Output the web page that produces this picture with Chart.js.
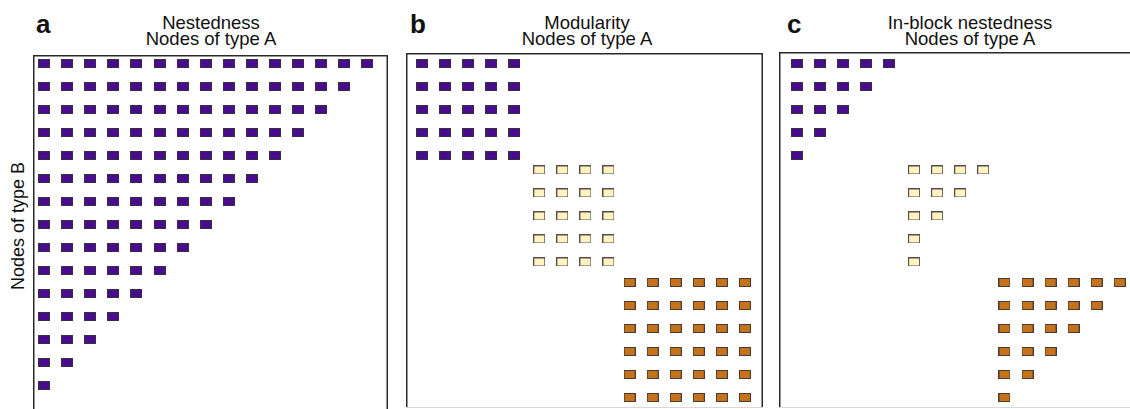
<!DOCTYPE html>
<html>
<head>
<meta charset="utf-8">
<script src="https://cdn.jsdelivr.net/npm/chart.js"></script>
<style>
   body { margin: 0; width: 1130px; height: 409px; overflow: hidden; background: #fff; position: relative; font-family: "Liberation Sans", Arial, sans-serif; color: #111; }
   canvas { position: absolute; }
   .t { position: absolute; font-size: 18.5px; line-height: 18px; white-space: nowrap; transform: translateX(-50%); }
   .l { position: absolute; font-size: 26px; line-height: 26px; font-weight: bold; }
   .y { position: absolute; font-size: 18px; line-height: 18px; white-space: nowrap; transform: translate(-50%, -50%) rotate(-90deg); }
</style>
</head>
<body>
<div class="l" style="left:36px;top:11px">a</div>
<div class="t" style="left:211px;top:14px">Nestedness</div>
<div class="t" style="left:211px;top:30px">Nodes of type A</div>
<div class="l" style="left:410px;top:11px">b</div>
<div class="t" style="left:587px;top:14px">Modularity</div>
<div class="t" style="left:587px;top:30px">Nodes of type A</div>
<div class="l" style="left:787px;top:11px">c</div>
<div class="t" style="left:970px;top:14px">In-block nestedness</div>
<div class="t" style="left:970px;top:30px">Nodes of type A</div>
<div class="y" style="left:18px;top:226px">Nodes of type B</div>

<canvas id="nested" style="left:33px;top:55px" width="355" height="354"></canvas>
<canvas id="modular" style="left:406px;top:53px" width="357" height="355"></canvas>
<canvas id="inblock" style="left:779px;top:52px" width="360" height="356"></canvas>

<script>
// rows of the nested matrix: how many type A nodes each type B node links to
var nestedRowLengths = [15, 14, 13, 12, 11, 10, 9, 8, 7, 6, 5, 4, 3, 2, 1];

// three blocks (modules); where each block starts, in node ranks
var blockColStart = [0, 5.08, 9];
var blockRowStart = [0, 4.63, 9.52];
var modularRowLengths = [
   [5, 5, 5, 5, 5],
   [4, 4, 4, 4, 4],
   [6, 6, 6, 6, 6, 6]
];
var inBlockRowLengths = [
   [5, 4, 3, 2, 1],
   [4, 3, 2, 1, 1],
   [6, 5, 4, 3, 2, 1]
];
var blockColors = ["#4a0c8f", "#fff3bf", "#c5731a"];
var blockEdges = ["#35313f", "#5a4a4a", "#4a3a3a"];

function cellImage(fill, edge) {
   var c = document.createElement("canvas");
   c.width = 12;
   c.height = 9;
   var g = c.getContext("2d");
   g.fillStyle = edge;
   g.fillRect(0, 0, 12, 9);
   g.fillStyle = fill;
   g.fillRect(1, 1, 10, 7);
   return c;
}

function cells(rowLengths, x0, y0) {
   var pts = [];
   for (var r = 0; r < rowLengths.length; r++) {
      for (var k = 0; k < rowLengths[r]; k++) {
         pts.push({x: x0 + k, y: y0 + r});
      }
   }
   return pts;
}

var framePlugin = {
   id: "frame",
   afterDraw: function (chart, args, opts) {
      var a = chart.chartArea;
      var ctx = chart.ctx;
      ctx.save();
      ctx.strokeStyle = "#2a2a2a";
      ctx.lineWidth = 1.5;
      ctx.beginPath();
      ctx.moveTo(a.left + 0.75, a.bottom);
      ctx.lineTo(a.left + 0.75, a.top + 0.75);
      ctx.lineTo(a.right - 0.75, a.top + 0.75);
      ctx.lineTo(a.right - 0.75, a.bottom);
      ctx.stroke();
      if (opts.bottom) {
         ctx.strokeStyle = "#d8d8d8";
         ctx.lineWidth = 1;
         ctx.beginPath();
         ctx.moveTo(a.left, a.bottom - 0.5);
         ctx.lineTo(a.right, a.bottom - 0.5);
         ctx.stroke();
      }
      ctx.restore();
   }
};

function makeChart(id, datasets, xr, yr, bottom) {
   return new Chart(id, {
      type: "scatter",
      data: { datasets: datasets },
      options: {
         responsive: false,
         animation: false,
         layout: { padding: 0, autoPadding: false },
         plugins: {
            legend: { display: false },
            tooltip: { enabled: false },
            frame: { bottom: bottom }
         },
         scales: {
            x: { type: "linear", display: false, min: xr[0], max: xr[1] },
            y: { type: "linear", display: false, reverse: true, min: yr[0], max: yr[1] }
         }
      },
      plugins: [framePlugin]
   });
}

function blockSets(rowLists) {
   var sets = [];
   for (var b = 0; b < rowLists.length; b++) {
      sets.push({
         data: cells(rowLists[b], blockColStart[b], blockRowStart[b]),
         pointStyle: cellImage(blockColors[b], blockEdges[b]),
         clip: false
      });
   }
   return sets;
}

makeChart("nested", [{
   data: cells(nestedRowLengths, 0, 0),
   pointStyle: cellImage(blockColors[0], blockEdges[0]),
   clip: false
}], [-0.476, 14.89], [-0.37, 15.02], false);

makeChart("modular", blockSets(modularRowLengths), [-0.703, 14.785], [-0.457, 14.978], true);

makeChart("inblock", blockSets(inBlockRowLengths), [-0.781, 14.837], [-0.5, 14.978], true);
</script>
</body>
</html>
